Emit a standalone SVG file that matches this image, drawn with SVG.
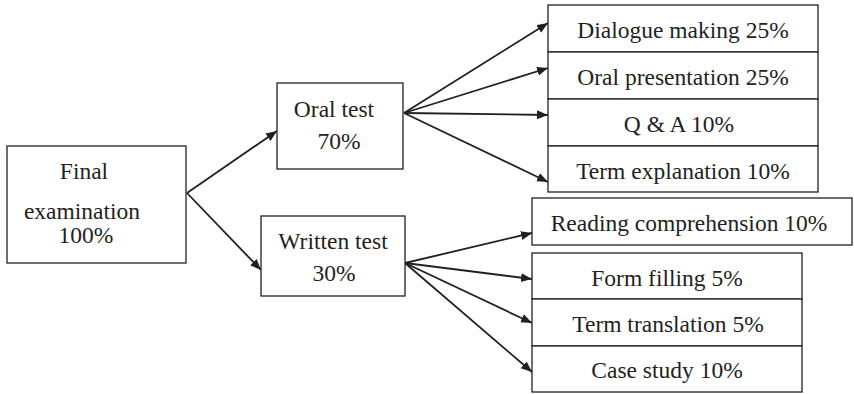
<svg xmlns="http://www.w3.org/2000/svg" width="854" height="394" viewBox="0 0 854 394">
  <style>
    .box { fill: #ffffff; stroke: #231f20; stroke-width: 1.3; }
    .t { font-family: 'Liberation Serif', Tinos, 'Times New Roman', Times, 'Noto Serif', 'DejaVu Serif', serif; font-size: 23.5px; fill: #231f20; text-anchor: middle; }
    .c { stroke: #231f20; stroke-width: 1.8; fill: none; marker-end: url(#arr); }
  </style>
  <defs>
    <marker id="arr" markerUnits="userSpaceOnUse" markerWidth="12" markerHeight="10" refX="11" refY="4.5" orient="auto">
      <path d="M0,0 L11,4.5 L0,9 z" fill="#231f20"/>
    </marker>
  </defs>
  <rect width="854" height="394" fill="#ffffff"/>

  <g id="connectors">
    <line class="c" x1="187" y1="193" x2="277" y2="131"/>
    <line class="c" x1="187" y1="193" x2="261" y2="270"/>
    <line class="c" x1="404" y1="113" x2="548" y2="23"/>
    <line class="c" x1="404" y1="113" x2="548" y2="68"/>
    <line class="c" x1="404" y1="113" x2="548" y2="115"/>
    <line class="c" x1="404" y1="113" x2="548" y2="182"/>
    <line class="c" x1="405" y1="263" x2="532" y2="233"/>
    <line class="c" x1="405" y1="263" x2="532" y2="279"/>
    <line class="c" x1="405" y1="263" x2="532" y2="323"/>
    <line class="c" x1="405" y1="263" x2="532" y2="372"/>
  </g>

  <g font-family="Liberation Serif, Times New Roman, serif">
  <g id="final">
    <rect class="box" x="7" y="146" width="179" height="117"/>
    <text class="t" x="84" y="179">Final</text>
    <text class="t" x="82" y="219">examination</text>
    <text class="t" x="86" y="243">100%</text>
  </g>

  <g id="oral">
    <rect class="box" x="277" y="83" width="126" height="86"/>
    <text class="t" x="334" y="117">Oral test</text>
    <text class="t" x="339" y="149">70%</text>
  </g>

  <g id="written">
    <rect class="box" x="261" y="216" width="144" height="80"/>
    <text class="t" x="333" y="249">Written test</text>
    <text class="t" x="334" y="281">30%</text>
  </g>

  <g id="dialogue">
    <rect class="box" x="548" y="5" width="270" height="47"/>
    <text class="t" x="683" y="38">Dialogue making 25%</text>
  </g>
  <g id="presentation">
    <rect class="box" x="548" y="52" width="270" height="47"/>
    <text class="t" x="683" y="85">Oral presentation 25%</text>
  </g>
  <g id="qa">
    <rect class="box" x="548" y="99" width="270" height="47"/>
    <text class="t" x="679" y="132">Q &amp; A 10%</text>
  </g>
  <g id="explanation">
    <rect class="box" x="548" y="146" width="270" height="46"/>
    <text class="t" x="683" y="179">Term explanation 10%</text>
  </g>

  <g id="reading">
    <rect class="box" x="532" y="198" width="320" height="47"/>
    <text class="t" x="689" y="231">Reading comprehension 10%</text>
  </g>
  <g id="form">
    <rect class="box" x="532" y="253" width="270" height="46"/>
    <text class="t" x="667" y="286">Form filling 5%</text>
  </g>
  <g id="translation">
    <rect class="box" x="532" y="299" width="270" height="47"/>
    <text class="t" x="668" y="332">Term translation 5%</text>
  </g>
  <g id="case">
    <rect class="box" x="532" y="346" width="270" height="46"/>
    <text class="t" x="667" y="378">Case study 10%</text>
  </g>
  </g>
</svg>
